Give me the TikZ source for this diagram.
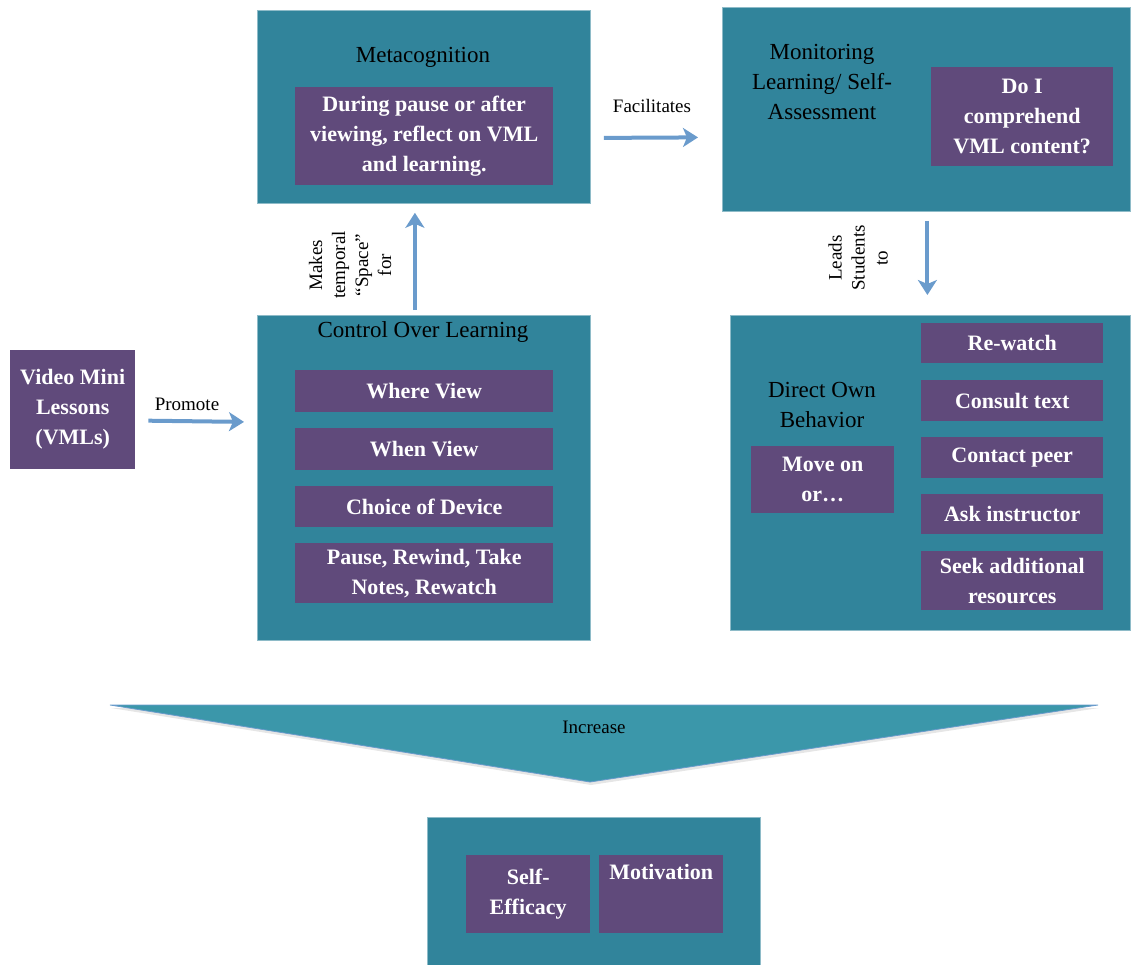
\documentclass[tikz,border=0pt]{standalone}
\usepackage{fontspec}
\setmainfont{Liberation Serif}
\usetikzlibrary{positioning,arrows.meta,calc,shadows}
\definecolor{vmlteal}{HTML}{31849B}
\definecolor{vmlpurple}{HTML}{604A7B}
\definecolor{vmlarrow}{HTML}{6A9BCC}
\definecolor{vmlwedge}{HTML}{3B97AA}

\tikzset{
  panel/.style={fill=vmlteal, draw=vmlteal!55!white, line width=0.8pt, anchor=north west, inner sep=0pt},
  chip/.style={fill=vmlpurple, text=white, anchor=north west, inner sep=0pt, align=center,
    font=\bfseries\fontsize{22}{30}\selectfont},
  heading/.style={align=center, font=\fontsize{23}{30}\selectfont},
  tag/.style={align=center, font=\fontsize{19}{23}\selectfont},
  flow/.style={draw=vmlarrow, line width=4pt, -{Stealth[length=15pt,width=19pt,inset=4pt]}},
}

\begin{document}
\begin{tikzpicture}[x=1pt, y=-1pt]
  \useasboundingbox (0,0) rectangle (1131,965);

  % top row
  \node[panel, minimum width=333, minimum height=193] (meta) at (257,10) {};
  \node[heading] (metatitle) at (423,57) {Metacognition};
  \node[chip, minimum width=258, minimum height=98] (reflect) at (295,87)
    {During pause or after\\viewing, reflect on VML\\and learning.};

  \node[panel, minimum width=408, minimum height=204] (monit) at (722,7) {};
  \node[heading] (monittitle) at (822,82) {Monitoring\\Learning/ Self-\\Assessment};
  \node[chip, minimum width=182, minimum height=99] (compre) at (931,67)
    {Do I\\comprehend\\VML content?};

  % left side
  \node[chip, minimum width=125, minimum height=119] (vml) at (10,350)
    {Video Mini\\Lessons\\(VMLs)};

  \node[panel, minimum width=333, minimum height=325] (ctrl) at (257,315) {};
  \node[heading] (ctrltitle) at (423,332) {Control Over Learning};
  \node[chip, minimum width=258, minimum height=42] (where) at (295,370) {Where View};
  \node[chip, minimum width=258, minimum height=42] (when) at (295,428) {When View};
  \node[chip, minimum width=258, minimum height=41] (device) at (295,486) {Choice of Device};
  \node[chip, minimum width=258, minimum height=60] (pause) at (295,543)
    {Pause, Rewind, Take\\Notes, Rewatch};

  % right side
  \node[panel, minimum width=400, minimum height=315] (direct) at (730,315) {};
  \node[heading] (directtitle) at (822,405) {Direct Own\\Behavior};
  \node[chip, minimum width=143, minimum height=67] (moveon) at (751,446) {Move on\\or\ldots};
  \node[chip, minimum width=182, minimum height=40] (rewatch) at (921,323) {Re-watch};
  \node[chip, minimum width=182, minimum height=41] (consult) at (921,380) {Consult text};
  \node[chip, minimum width=182, minimum height=41] (peer) at (921,437) {Contact peer};
  \node[chip, minimum width=182, minimum height=40] (instr) at (921,494) {Ask instructor};
  \node[chip, minimum width=182, minimum height=59] (seek) at (921,551)
    {Seek additional\\resources};

  % connectors
  \node[tag] (facil) at (652,106) {Facilitates};
  \draw[flow] ($(meta.east)+(13,31)$) -- ($(monit.west)+(-24,28)$);
  \node[tag] (promote) at (187,404) {Promote};
  \draw[flow] ($(vml.east)+(13,11)$) -- ($(ctrl.west)+(-13,-56)$);
  \node[tag, rotate=90] (space) at (350,265) {Makes\\temporal\\``Space''\\for};
  \draw[flow] ($(ctrl.north)+(-9,-5)$) -- ($(meta.south)+(-9,9)$);
  \node[tag, rotate=90] (leads) at (858,258) {Leads\\Students\\to};
  \draw[flow] ($(monit.south)+(1,9)$) -- ($(direct.north)+(-3,-20)$);

  % wedge
  \path[fill=vmlwedge, draw=vmlarrow, line width=0.8pt,
    drop shadow={opacity=0.2, shadow xshift=1pt, shadow yshift=-3pt}]
    (110,705) -- (1098,705) -- (590,782) -- cycle;
  \node[tag] (increase) at (594,727) {Increase};

  % bottom
  \node[panel, minimum width=333, minimum height=150] (outcome) at (427,817) {};
  \node[chip, minimum width=124, minimum height=78] (efficacy) at (466,855) {Self-\\Efficacy};
  \node[chip, minimum width=124, minimum height=78] (motiv) at (599,855) {};
  \node[chip, fill=none, anchor=center] (motivtext) at ($(motiv.north)+(0,17)$) {Motivation};
\end{tikzpicture}
\end{document}
